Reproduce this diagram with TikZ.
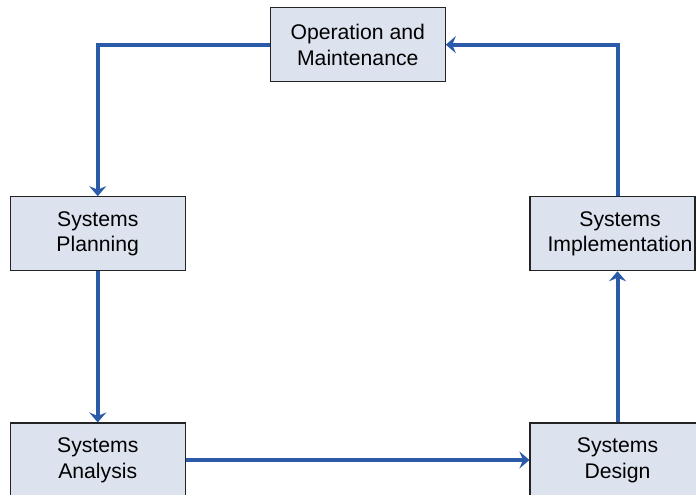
\documentclass[tikz,border=0pt]{standalone}
\usepackage{fontspec}
\setmainfont{Liberation Sans}
\usetikzlibrary{arrows.meta}
\definecolor{flowblue}{RGB}{43,90,168}
\definecolor{boxfill}{RGB}{221,227,238}
\definecolor{boxline}{RGB}{35,35,35}
\begin{document}
\begin{tikzpicture}[x=1pt,y=-1pt,
  stagebox/.style={draw=boxline, line width=1.1pt, fill=boxfill,
    minimum height=74pt, minimum width=175pt, inner sep=0pt, align=center,
    font=\fontsize{21.2}{25.6}\selectfont},
  stagetext/.style={inner sep=0pt, align=center,
    font=\fontsize{21.2}{25.6}\selectfont},
  flow/.style={draw=flowblue, line width=4pt,
    -{Stealth[length=10pt,width=17pt,inset=3.5pt]}}]
\useasboundingbox (0,0) rectangle (696,496);
\begin{scope}
  \clip (0,0) rectangle (696,494.5);
  \node[stagebox] (om) at (357.75,44.7) {Operation and\\Maintenance};
  \node[stagebox] (plan) at (97.75,233.7) {Systems\\Planning};
  \node[stagebox, minimum width=165pt] (impl) at (612.5,233.7) {};
  \node[stagetext] (impltext) at (620,233.7) {Systems\\Implementation};
  \node[stagebox] (anal) at (97.75,460) {Systems\\Analysis};
  \node[stagebox] (design) at (617.5,460) {Systems\\Design};
\end{scope}
% the development cycle
\draw[flow] (om.west) -| (plan.north);
\draw[flow] (plan.south) -- (anal.north);
\draw[flow] (anal.east) -- (design.west);
\draw[flow] (design.north) -- (design.north |- impl.south);
\draw[flow] (design.north |- impl.north) |- (om.east);
\end{tikzpicture}
\end{document}
